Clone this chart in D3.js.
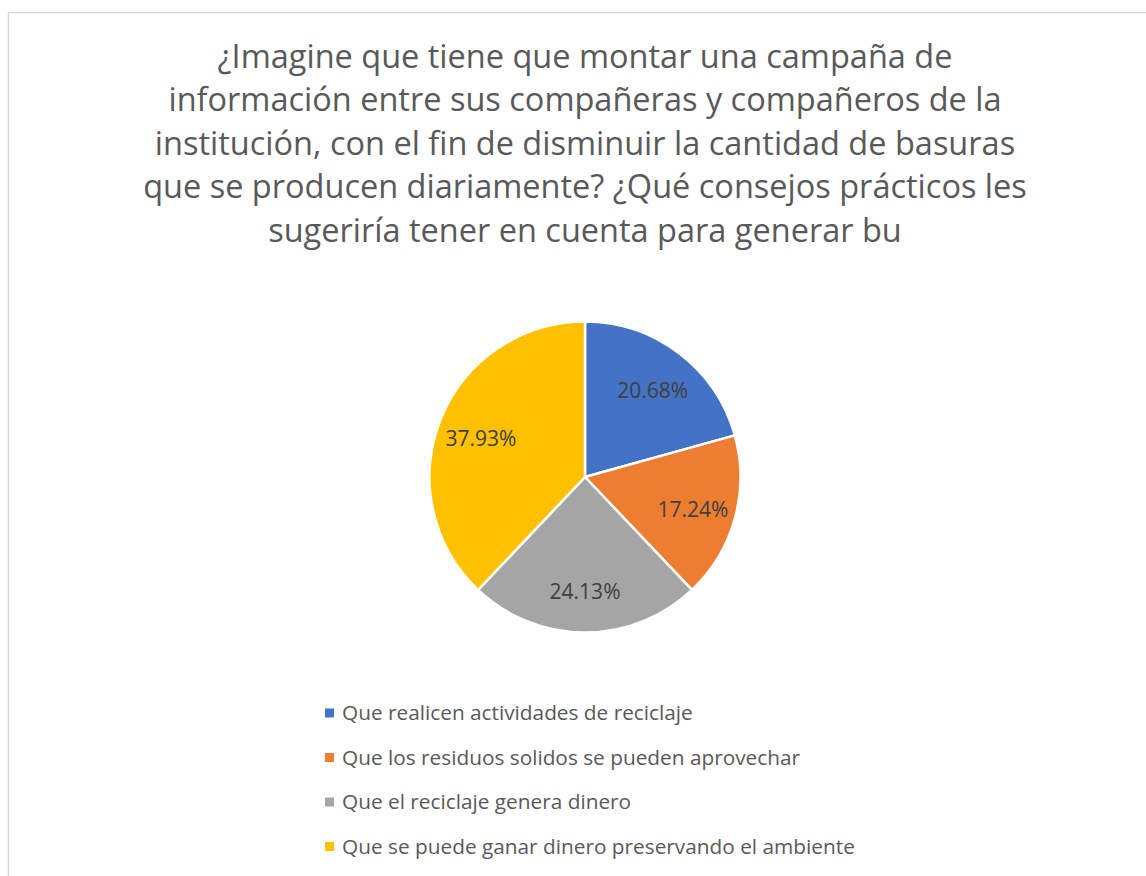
<!DOCTYPE html>
<html>
<head>
<meta charset="utf-8">
<script src="https://cdn.jsdelivr.net/npm/d3@7"></script>
<style>
  html, body { margin: 0; padding: 0; background: #fff; }
  svg { display: block; font-family: "Open Sans", "Noto Sans", sans-serif; }
</style>
</head>
<body>
<svg id="chart" width="1146" height="876"></svg>
<script>
// chart data
const categories = [
  "Que realicen actividades de reciclaje",
  "Que los residuos solidos se pueden aprovechar",
  "Que el reciclaje genera dinero",
  "Que se puede ganar dinero preservando el ambiente"
];
const percents = [20.68, 17.24, 24.13, 37.93];
const colors = ["#4472C4", "#ED7D31", "#A5A5A5", "#FFC000"];
const titleLines = [
  "¿Imagine que tiene que montar una campaña de",
  "información entre sus compañeras y compañeros de la",
  "institución, con el fin de disminuir la cantidad de basuras",
  "que se producen diariamente? ¿Qué consejos prácticos les",
  "sugeriría tener en cuenta para generar bu"
];

const svg = d3.select("#chart");

// chart area border (right and bottom run off the picture)
svg.append("rect")
  .attr("x", 8.5).attr("y", 12.5)
  .attr("width", 1150).attr("height", 880)
  .attr("fill", "#fff")
  .attr("stroke", "#d9d9d9")
  .attr("stroke-width", 1.5);

// title
const cx = 585;
svg.append("text")
  .attr("text-anchor", "middle")
  .attr("fill", "#595959")
  .style("font-size", "32.5px")
  .selectAll("tspan")
  .data(titleLines)
  .join("tspan")
  .attr("x", cx)
  .attr("y", (d, i) => 68 + i * 43.4)
  .text(d => d);

// pie
const cy = 477, radius = 155.5;
const pie = d3.pie().sort(null).value(d => d);
const arcs = pie(percents);
const arc = d3.arc().innerRadius(0).outerRadius(radius);
const labelArc = d3.arc().innerRadius(radius * 0.72).outerRadius(radius * 0.72);

const g = svg.append("g").attr("transform", `translate(${cx},${cy})`);

g.selectAll("path")
  .data(arcs)
  .join("path")
  .attr("d", arc)
  .attr("fill", (d, i) => colors[i])
  .attr("stroke", "#fff")
  .attr("stroke-width", 2.5)
  .attr("stroke-linejoin", "round");

g.selectAll("text.pct")
  .data(arcs)
  .join("text")
  .attr("class", "pct")
  .attr("transform", d => `translate(${labelArc.centroid(d)})`)
  .attr("text-anchor", "middle")
  .attr("dy", "0.5em")
  .attr("fill", "#404040")
  .style("font-size", "21px")
  .text(d => d.data.toFixed(2) + "%");

// legend
const legend = svg.append("g").attr("transform", "translate(325,713)");
const rows = legend.selectAll("g")
  .data(categories)
  .join("g")
  .attr("transform", (d, i) => `translate(0,${i * 44.5})`);

rows.append("rect")
  .attr("x", 0).attr("y", -4.5)
  .attr("width", 9).attr("height", 9)
  .attr("fill", (d, i) => colors[i]);

rows.append("text")
  .attr("x", 17)
  .attr("dy", "0.35em")
  .attr("fill", "#595959")
  .style("font-size", "20.8px")
  .text(d => d);
</script>
</body>
</html>
